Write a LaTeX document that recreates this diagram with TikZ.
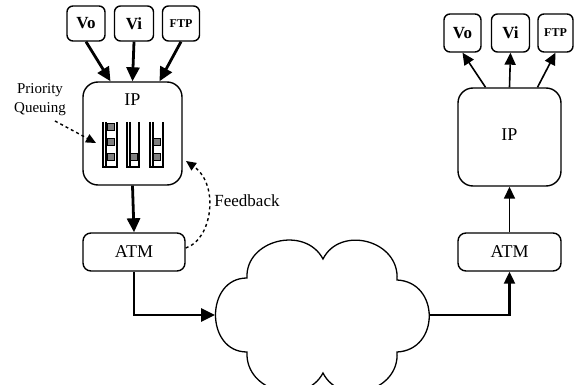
\documentclass[tikz,border=0pt]{standalone}
\usepackage{fontspec}
\setmainfont{Liberation Serif}
\usetikzlibrary{arrows.meta}
\begin{document}
\begin{tikzpicture}[x=1pt,y=-1pt,
  box/.style={draw, line width=1.4pt, rounded corners=#1, inner sep=0pt},
  small/.style={box=6pt, minimum height=35pt, font=\fontsize{17}{17}\selectfont\bfseries},
  ftpfont/.style={font=\fontsize{12}{12}\selectfont\bfseries},
  atm/.style={box=8pt, minimum width=102pt, minimum height=38pt, font=\fontsize{18}{18}\selectfont},
  ipbox/.style={box=15pt},
  lbl/.style={inner sep=0pt, font=\fontsize{17}{17}\selectfont},
  thick arrow/.style={line width=2.8pt, -{Triangle[length=14pt,width=13pt]}},
  thin arrow/.style={line width=1.6pt, -{Triangle[length=12pt,width=11pt]}},
  dash arrow/.style={line width=1.4pt, dash pattern=on 3pt off 3pt, -{Triangle[length=10pt,width=9pt]}},
  queue/.style={line width=1.5pt},
  pkt/.style={fill=gray, draw=black, line width=0.8pt}
]
\useasboundingbox (0,0) rectangle (574,385);
\clip (0,0) rectangle (574,385);

% left side
\node[small, minimum width=38pt] (lvo) at (86,23.5) {Vo};
\node[small, minimum width=39pt] (lvi) at (134,23.5) {Vi};
\node[small, minimum width=37pt, ftpfont] (lftp) at (181,23.5) {FTP};
\node[ipbox, minimum width=99pt, minimum height=103pt] (lip) at (132.5,133.5) {};
\node[lbl, font=\fontsize{18}{18}\selectfont] (liplbl) at (132.5,100) {IP};
\node[atm] (lat) at (134,252) {ATM};

\draw[thick arrow] (lvo.south) -- ([xshift=-22pt]lip.north);
\draw[thick arrow] (lvi.south) -- (lip.north);
\draw[thick arrow] (lftp.south) -- ([xshift=27pt]lip.north);
\draw[thick arrow] (lip.south) -- (lat.north);

% queues
\draw[queue] (103,122) -- (103,167) -- (117,167) -- (117,122);
\draw[queue] (106,122) -- (106,167);
\draw[queue] (127,122) -- (127,167) -- (139,167) -- (139,122);
\draw[queue] (130,122) -- (130,167);
\draw[queue] (150,122) -- (150,167) -- (163,167) -- (163,122);
\draw[queue] (153,122) -- (153,167);
\foreach \cx/\cy in {111/127, 111/142, 111/157, 134/157, 157/142, 157/157}
  \draw[pkt] (\cx-3.5,\cy-3.5) rectangle (\cx+3.5,\cy+3.5);

% priority queuing
\node[lbl, align=center, font=\fontsize{15}{19}\selectfont] (pq) at (40,100) {Priority\\Queuing};
\coordinate (pqs) at (55,121);
\coordinate (pqe) at (96,143);
\draw[dash arrow] (pqs) -- (pqe);

% feedback
\coordinate (fbe) at (186,161);
\draw[dash arrow] ([yshift=4pt]lat.east) .. controls (212,240) and (220,185) .. (fbe);
\node[lbl] (fb) at (247,201) {Feedback};

% cloud
\coordinate (cA) at (247,278);
\coordinate (cB) at (323,259);
\coordinate (cC) at (397,280);
\coordinate (cD) at (397,352);
\coordinate (cE) at (323,373);
\coordinate (cF) at (247,352);
\coordinate (cloudL) at (215,315);
\coordinate (cloudR) at (429,315);
\draw[line width=1.3pt] (cF) .. controls (205,352) and (205,278) .. (cA)
  .. controls (245,240) and (305,225) .. (cB)
  .. controls (340,225) and (400,240) .. (cC)
  .. controls (440,282) and (440,350) .. (cD)
  .. controls (400,392) and (340,407) .. (cE)
  .. controls (305,407) and (245,392) .. (cF) -- cycle;

\draw[thick arrow] (lat.south) |- (cloudL);

% right side
\node[small, minimum width=37pt, minimum height=38pt] (rvo) at (462.5,33) {Vo};
\node[small, minimum width=38pt, minimum height=38pt] (rvi) at (510.5,33) {Vi};
\node[small, minimum width=35pt, minimum height=38pt, ftpfont] (rftp) at (555.5,33) {FTP};
\node[ipbox, minimum width=103pt, minimum height=98pt] (rip) at (509.5,137) {};
\node[lbl, font=\fontsize{18}{18}\selectfont] (riplbl) at (509.5,135) {IP};
\node[atm, minimum width=103pt] (rat) at (509.5,252) {ATM};

\draw[line width=2.2pt, -{Triangle[length=12pt,width=11pt]}] (cloudR) -| (rat.south);
\draw[thin arrow] (rat.north) -- (rip.south);
\draw[thin arrow] ([xshift=-24pt]rip.north) -- (rvo.south);
\draw[thin arrow] (rip.north) -- (rvi.south);
\draw[thin arrow] ([xshift=28pt]rip.north) -- (rftp.south);
\end{tikzpicture}
\end{document}
